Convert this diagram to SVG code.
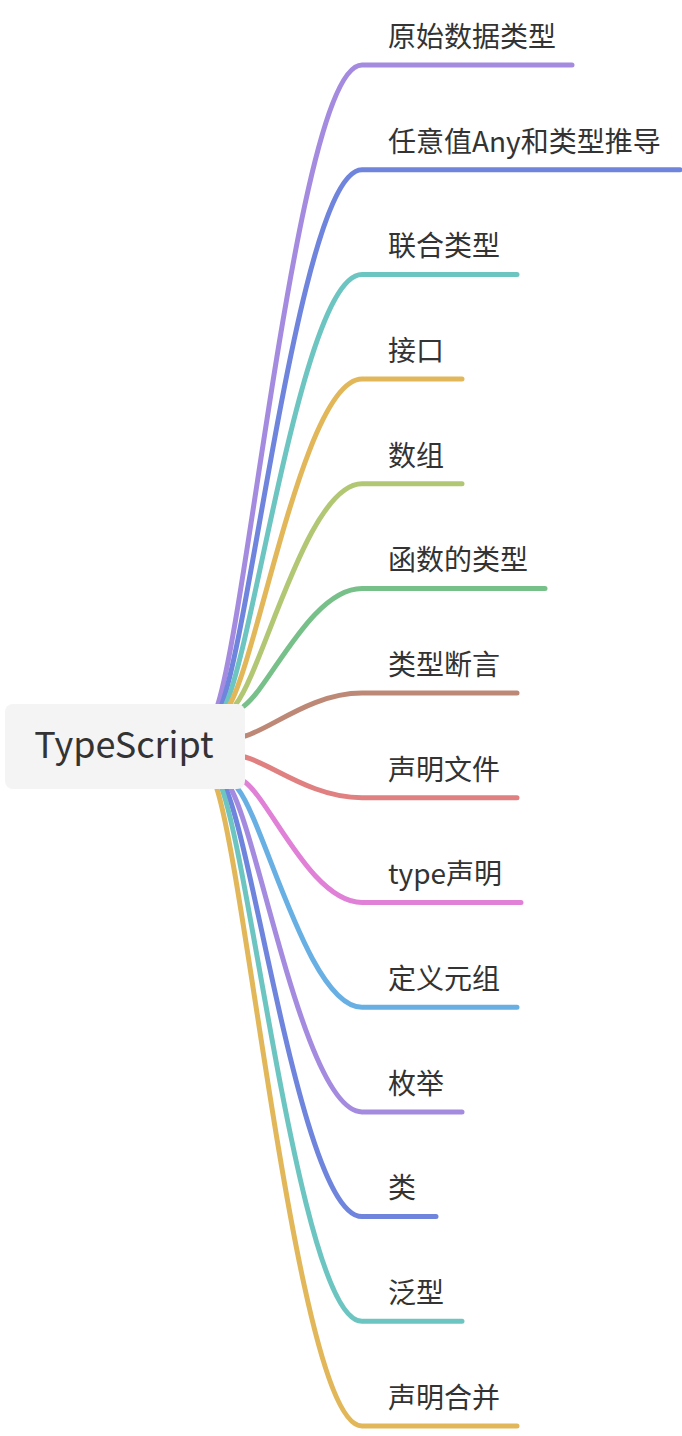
<svg xmlns="http://www.w3.org/2000/svg" width="682" height="1436" viewBox="0 0 682 1436">
<style>
.c{fill:none;stroke-width:5;stroke-linecap:round;stroke-linejoin:round}
.t{font-family:"Noto Sans CJK SC","Noto Sans",sans-serif;font-size:28px;fill:#333333}
.root{font-family:"Noto Sans CJK SC","Noto Sans",sans-serif;font-size:36px;fill:#333333;text-anchor:middle}
.purple{stroke:#A48BE0}.blue{stroke:#6F84DC}.teal{stroke:#6DC5C2}.yellow{stroke:#E2B75A}
.olive{stroke:#B2C773}.green{stroke:#78C08A}.brown{stroke:#BD8976}.red{stroke:#E08080}
.pink{stroke:#E080D6}.sky{stroke:#68B0E4}
</style>
<g id="connectors">
<path class="c purple" d="M218 704 C249.7 601.8 300.1 65 362 65 H572"/>
<path class="c blue" d="M222 704 C252.8 618.5 301.8 169.7 362 169.7 H680"/>
<path class="c teal" d="M226 704 C255.9 635.3 303.5 274.4 362 274.4 H517"/>
<path class="c yellow" d="M230 704 C259 652 305.2 379.1 362 379.1 H462"/>
<path class="c olive" d="M236 704 C263.7 668.8 307.8 483.8 362 483.8 H462"/>
<path class="c green" d="M244 706 C270 687.2 311.3 588.5 362 588.5 H545"/>
<path class="c brown" d="M245 736 C270.7 729.1 311.7 693.1 362 693.1 H517"/>
<path class="c red" d="M245 757 C270.7 763.5 311.7 797.8 362 797.8 H517"/>
<path class="c pink" d="M245 782 C270.7 801.3 311.7 902.5 362 902.5 H521"/>
<path class="c sky" d="M238 789 C265.3 823.9 308.7 1007.2 362 1007.2 H517"/>
<path class="c purple" d="M231 789 C259.8 840.7 305.7 1111.9 362 1111.9 H462"/>
<path class="c blue" d="M226 789 C255.9 857.4 303.5 1216.6 362 1216.6 H436"/>
<path class="c teal" d="M222 789 C252.8 874.2 301.8 1321.3 362 1321.3 H462"/>
<path class="c yellow" d="M217 789 C248.9 890.9 299.7 1426 362 1426 H517"/>
</g>
<g id="root">
<rect x="5" y="704" width="240" height="85" rx="8" fill="#F4F4F4"/>
<text class="root" x="124" y="758">TypeScript</text>
</g>
<g id="n1"><text class="t" x="388" y="47">原始数据类型</text></g>
<g id="n2"><text class="t" x="388" y="152">任意值Any和类型推导</text></g>
<g id="n3"><text class="t" x="388" y="256">联合类型</text></g>
<g id="n4"><text class="t" x="388" y="361">接口</text></g>
<g id="n5"><text class="t" x="388" y="466">数组</text></g>
<g id="n6"><text class="t" x="388" y="570">函数的类型</text></g>
<g id="n7"><text class="t" x="388" y="675">类型断言</text></g>
<g id="n8"><text class="t" x="388" y="780">声明文件</text></g>
<g id="n9"><text class="t" x="388" y="884">type声明</text></g>
<g id="n10"><text class="t" x="388" y="989">定义元组</text></g>
<g id="n11"><text class="t" x="388" y="1094">枚举</text></g>
<g id="n12"><text class="t" x="388" y="1198">类</text></g>
<g id="n13"><text class="t" x="388" y="1303">泛型</text></g>
<g id="n14"><text class="t" x="388" y="1408">声明合并</text></g>
</svg>
